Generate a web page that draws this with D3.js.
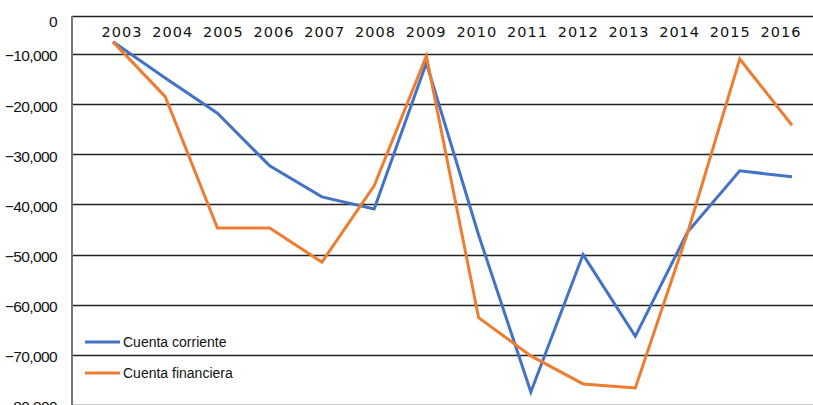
<!DOCTYPE html>
<html>
<head>
<meta charset="utf-8">
<script src="https://cdn.jsdelivr.net/npm/d3@7"></script>
<style>
  body { margin: 0; background: #fff; }
  svg { display: block; }
</style>
</head>
<body>
<svg id="chart" width="813" height="405"></svg>
<script>
// values
var years = ["2003","2004","2005","2006","2007","2008","2009","2010","2011","2012","2013","2014","2015","2016"];
var corriente = [-6800,-14800,-21800,-32300,-38500,-40900,-11800,-46100,-77400,-50000,-66300,-45500,-33300,-34500];
var financiera = [-6800,-18500,-44700,-44700,-51500,-36300,-10400,-62600,-70200,-75800,-76600,-45700,-11000,-24200];
var yTicks = [0,-10000,-20000,-30000,-40000,-50000,-60000,-70000,-80000];

var series = [
    {name: "Cuenta corriente", values: corriente, color: "#4472C4"},
    {name: "Cuenta financiera", values: financiera, color: "#ED7D31"}
];

var svg = d3.select("#chart"),
    left = 72,
    right = 813;

// top band of the original is squeezed, so the scale is piecewise
var y = d3.scaleLinear().domain([0, -10000, -80000]).range([16, 54, 405]);
var x = d3.scalePoint().domain(years).range([113, 792]);
var xl = d3.scalePoint().domain(years).range([122, 781]);

var fmt = d3.format(",");

// grid lines
svg.append("g").selectAll("line")
    .data(yTicks)
    .enter().append("line")
    .attr("x1", left).attr("x2", right)
    .attr("y1", d => Math.round(y(d)) + 0.5)
    .attr("y2", d => Math.round(y(d)) + 0.5)
    .attr("stroke", "#222")
    .attr("stroke-width", 1.3);

// y axis line
svg.append("line")
    .attr("x1", left).attr("x2", left)
    .attr("y1", y(0)).attr("y2", 405)
    .attr("stroke", "#777")
    .attr("stroke-width", 2);

// y labels
svg.append("g").selectAll("text")
    .data(yTicks)
    .enter().append("text")
    .attr("x", 57)
    .attr("y", d => d === 0 ? y(d) + 6 : y(d) + 2)
    .attr("dy", "0.35em")
    .attr("text-anchor", "end")
    .attr("font-family", "Liberation Sans, Arial, sans-serif")
    .attr("font-size", 15.5)
    .attr("letter-spacing", -0.6)
    .attr("fill", "#111")
    .text(d => fmt(d));

// year labels along the top
svg.append("g").selectAll("text")
    .data(years)
    .enter().append("text")
    .attr("x", d => xl(d))
    .attr("y", 32)
    .attr("dy", "0.35em")
    .attr("text-anchor", "middle")
    .attr("font-family", "DejaVu Sans, sans-serif")
    .attr("font-size", 14.5)
    .attr("letter-spacing", 1)
    .attr("fill", "#111")
    .text(d => d);

var line = d3.line()
    .x((d, i) => x(years[i]))
    .y(d => y(d));

svg.append("g").selectAll("path")
    .data(series)
    .enter().append("path")
    .attr("d", d => line(d.values))
    .attr("fill", "none")
    .attr("stroke", d => d.color)
    .attr("stroke-width", 3)
    .attr("stroke-linejoin", "miter");

// legend
var legend = svg.append("g").selectAll("g")
    .data(series)
    .enter().append("g")
    .attr("transform", (d, i) => "translate(85," + (342 + i * 31) + ")");

legend.append("line")
    .attr("x1", 0).attr("x2", 35)
    .attr("stroke", d => d.color)
    .attr("stroke-width", 3);

legend.append("text")
    .attr("x", 38)
    .attr("dy", "0.35em")
    .attr("font-family", "Liberation Sans, Arial, sans-serif")
    .attr("font-size", 14)
    .attr("fill", "#111")
    .text(d => d.name);
</script>
</body>
</html>
